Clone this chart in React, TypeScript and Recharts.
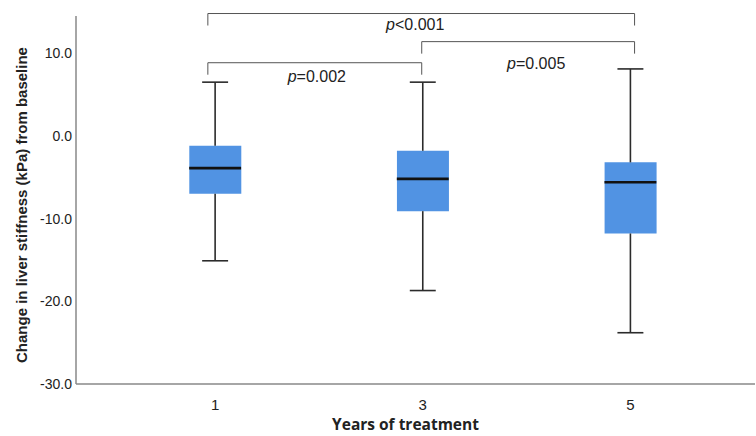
import { Bar, ComposedChart, Label, ReferenceLine, XAxis, YAxis } from "recharts";

// box plot summary (kPa change from baseline)
const years = [1, 3, 5];
const whiskerLow = [-15.1, -18.7, -23.8];
const q1 = [-7.0, -9.1, -11.8];
const median = [-3.9, -5.2, -5.6];
const q3 = [-1.2, -1.8, -3.2];
const whiskerHigh = [6.5, 6.5, 8.1];

const yTicks = [-30, -20, -10, 0, 10];

// pairwise comparisons
const compFrom = [0.93, 0.93, 2.99];
const compTo = [5.04, 2.99, 5.04];
const compLevel = [14.8, 8.85, 11.4];
const compText = ["<0.001", "=0.002", "=0.005"];
const compDx = [-6, 2, 8];
const compDy = [16, 19, 27];

const data = years.map((year, i) => ({ year, box: [q1[i], q3[i]] }));

const BOX_HALF = 0.25;
const CAP_HALF = 0.125;
const DROP = 1.45;

const font = "'Liberation Sans', Arial, sans-serif";

function PLabel({ viewBox, text, dx, dy }: any) {
  const x = viewBox.x + viewBox.width / 2 + dx;
  const y = viewBox.y + dy;
  return (
    <text x={x} y={y} textAnchor="middle" fontSize={16} fontFamily={font} fill="#222">
      <tspan fontStyle="italic">p</tspan>
      {text}
    </text>
  );
}

function YTitle({ viewBox }: any) {
  const x = 21;
  const y = viewBox.y + viewBox.height / 2 + 5;
  return (
    <text
      x={x}
      y={y}
      transform={`rotate(-90, ${x}, ${y})`}
      textAnchor="middle"
      dominantBaseline="central"
      fontSize={15}
      fontWeight="bold"
      fontFamily={font}
      fill="#222"
    >
      Change in liver stiffness (kPa) from baseline
    </text>
  );
}

export default function App() {
  const whisker = { stroke: "#2b2b2b", strokeWidth: 1.6 };
  return (
    <div style={{ position: "absolute", left: 0, top: 0, width: 756, height: 436, background: "#fff" }}>
      <ComposedChart width={756} height={436} data={data} margin={{ top: 16, right: 1, bottom: 0, left: 0 }}>
        <XAxis
          dataKey="year"
          type="number"
          domain={[-0.34, 6.2]}
          ticks={years}
          allowDataOverflow
          tickLine={false}
          tickSize={0}
          tickMargin={15}
          height={52}
          stroke="#888"
          strokeWidth={1.5}
          tick={{ fill: "#222", fontSize: 15, fontFamily: font }}
        >
          <Label
            value="Years of treatment"
            position="insideBottom"
            offset={6}
            style={{ fontSize: 15.5, fontWeight: "bold", fontFamily: "'Open Sans', sans-serif", fill: "#222" }}
            dx={-10}
          />
        </XAxis>
        <YAxis
          type="number"
          domain={[-30, 14.5]}
          ticks={yTicks}
          allowDataOverflow
          tickFormatter={(v: number) => v.toFixed(1)}
          tickLine={false}
          tickSize={0}
          tickMargin={4}
          width={76}
          stroke="#888"
          strokeWidth={1.5}
          tick={{ fill: "#222", fontSize: 14, fontFamily: font }}
        >
          <Label content={<YTitle />} />
        </YAxis>

        {years.map((year, i) => (
          <ReferenceLine
            key={`lo${i}`}
            segment={[{ x: year, y: whiskerLow[i] }, { x: year, y: q1[i] }]}
            {...whisker}
          />
        ))}
        {years.map((year, i) => (
          <ReferenceLine
            key={`hi${i}`}
            segment={[{ x: year, y: q3[i] }, { x: year, y: whiskerHigh[i] }]}
            {...whisker}
          />
        ))}
        {years.map((year, i) => (
          <ReferenceLine
            key={`capl${i}`}
            segment={[{ x: year - CAP_HALF, y: whiskerLow[i] }, { x: year + CAP_HALF, y: whiskerLow[i] }]}
            {...whisker}
          />
        ))}
        {years.map((year, i) => (
          <ReferenceLine
            key={`caph${i}`}
            segment={[{ x: year - CAP_HALF, y: whiskerHigh[i] }, { x: year + CAP_HALF, y: whiskerHigh[i] }]}
            {...whisker}
          />
        ))}

        <Bar dataKey="box" fill="#5193e3" barSize={52} isAnimationActive={false} />

        {years.map((year, i) => (
          <ReferenceLine
            key={`med${i}`}
            segment={[{ x: year - BOX_HALF, y: median[i] }, { x: year + BOX_HALF, y: median[i] }]}
            stroke="#111"
            strokeWidth={2.6}
          />
        ))}

        {compFrom.map((from, i) => (
          <ReferenceLine
            key={`cmp${i}`}
            ifOverflow="visible"
            segment={[{ x: from, y: compLevel[i] }, { x: compTo[i], y: compLevel[i] }]}
            stroke="#555"
            strokeWidth={1}
            label={<PLabel text={compText[i]} dx={compDx[i]} dy={compDy[i]} />}
          />
        ))}
        {compFrom.map((from, i) => (
          <ReferenceLine
            key={`cl${i}`}
            ifOverflow="visible"
            segment={[{ x: from, y: compLevel[i] }, { x: from, y: compLevel[i] - DROP }]}
            stroke="#555"
            strokeWidth={1}
          />
        ))}
        {compTo.map((to, i) => (
          <ReferenceLine
            key={`cr${i}`}
            ifOverflow="visible"
            segment={[{ x: to, y: compLevel[i] }, { x: to, y: compLevel[i] - DROP }]}
            stroke="#555"
            strokeWidth={1}
          />
        ))}
      </ComposedChart>
    </div>
  );
}
